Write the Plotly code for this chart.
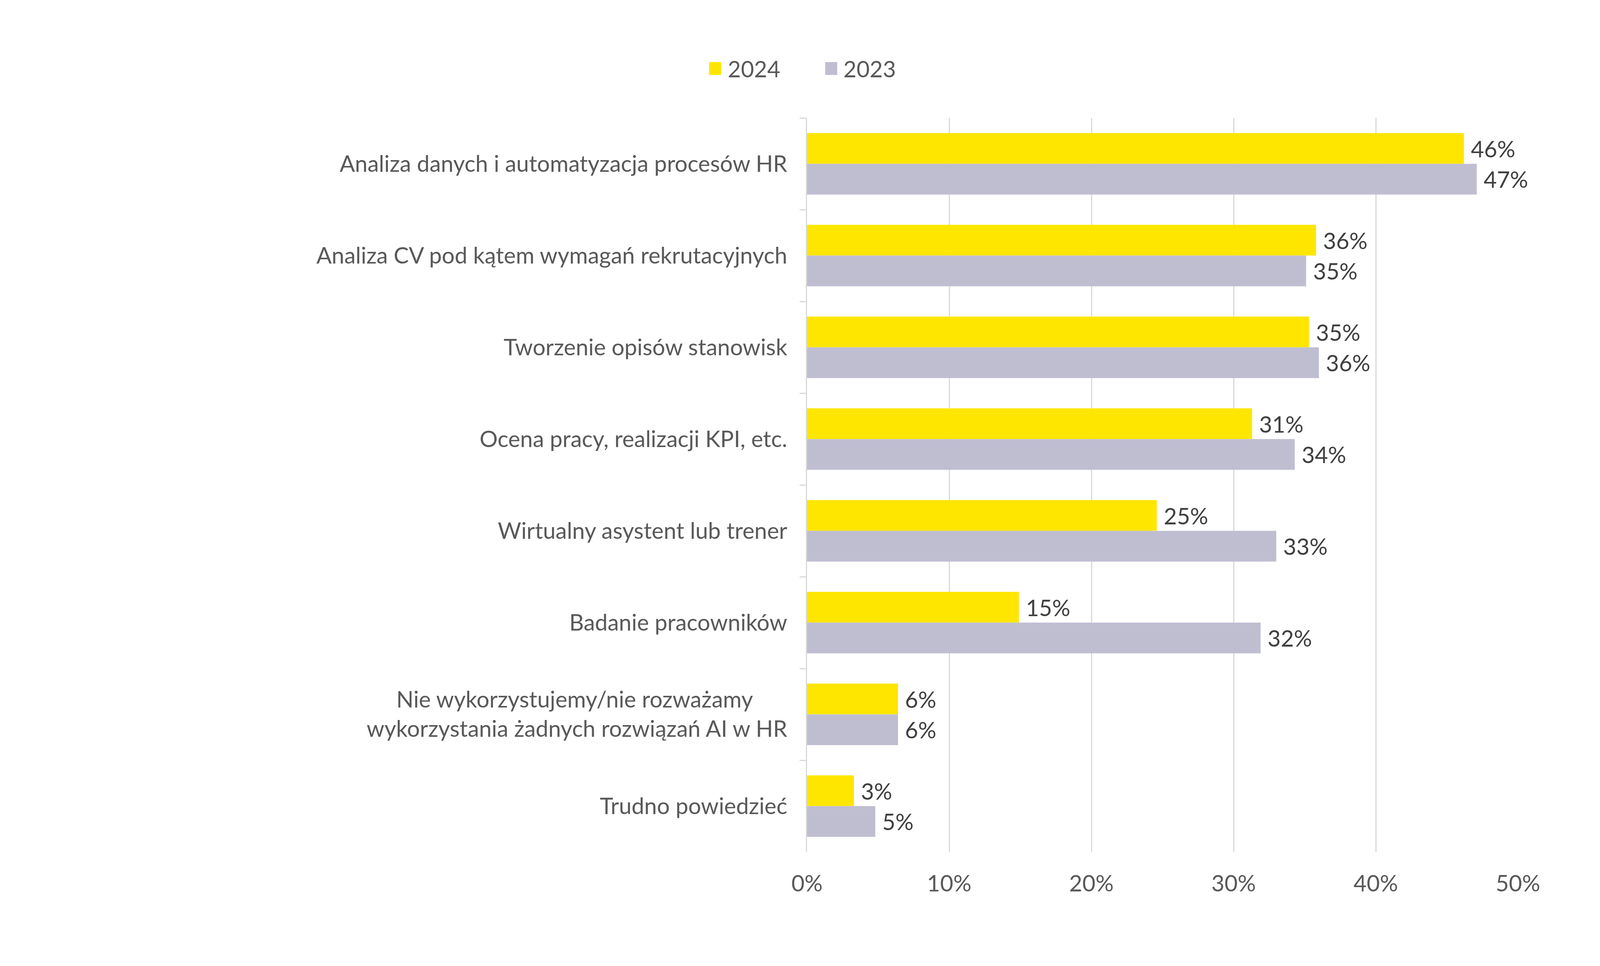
import plotly.graph_objects as go

categories = [
    "Analiza danych i automatyzacja procesów HR",
    "Analiza CV pod kątem wymagań rekrutacyjnych",
    "Tworzenie opisów stanowisk",
    "Ocena pracy, realizacji KPI, etc.",
    "Wirtualny asystent lub trener",
    "Badanie pracowników",
    "Nie wykorzystujemy/nie rozważamy" + "\u00a0" * 6 + "<br>wykorzystania żadnych rozwiązań AI w HR",
    "Trudno powiedzieć",
]
values_2024 = [46.2, 35.8, 35.3, 31.3, 24.6, 14.9, 6.4, 3.3]
values_2023 = [47.1, 35.1, 36.0, 34.3, 33.0, 31.9, 6.4, 4.8]
series_names = ["2024", "2023"]
x_ticks = [0, 10, 20, 30, 40, 50]
x_tick_labels = ["0%", "10%", "20%", "30%", "40%", "50%"]

YELLOW = "#FFE600"
GREY = "#BFBED1"
FONT = "Lato"
FS = 58

W, H = 4399, 2474
L, R, T, B = 2219, 226, 302, 292
PW, PH = W - L - R, H - T - B


def px2paper(x, y):
    return (x - L) / PW, (H - B - y) / PH


fig = go.Figure()
for name, vals, col in [(series_names[0], values_2024, YELLOW), (series_names[1], values_2023, GREY)]:
    fig.add_trace(go.Bar(
        y=categories, x=vals, name=name, orientation="h",
        marker=dict(color=col, line=dict(width=0)),
        texttemplate="\u00a0%{x:.0f}%", textposition="outside",
        textfont=dict(family=FONT, size=FS, color="#404040"),
        constraintext="none", cliponaxis=False, showlegend=False,
        hoverinfo="skip",
    ))

# custom legend (large square symbols)
shapes = []
annotations = []
for (sx, tx, name, col) in [(1950, 2000, series_names[0], YELLOW), (2269, 2318, series_names[1], GREY)]:
    x0, y0 = px2paper(sx, 192)
    x1, y1 = px2paper(sx + 33, 159)
    shapes.append(dict(type="rect", xref="paper", yref="paper", x0=x0, x1=x1, y0=y0, y1=y1,
                       fillcolor=col, line=dict(width=0)))
    ax, ay = px2paper(tx, 175)
    annotations.append(dict(xref="paper", yref="paper", x=ax, y=ay, xanchor="left", yanchor="middle",
                            text=name, showarrow=False, borderpad=0,
                            font=dict(family=FONT, size=FS, color="#595959")))

fig.update_layout(
    width=W, height=H,
    margin=dict(l=L, r=R, t=T, b=B, autoexpand=False),
    paper_bgcolor="white", plot_bgcolor="white",
    barmode="group", bargap=0.33, bargroupgap=0,
    shapes=shapes, annotations=annotations,
    font=dict(family=FONT, size=FS, color="#595959"),
    xaxis=dict(range=[0, 50], tickvals=x_ticks, ticktext=x_tick_labels,
               showgrid=True, gridcolor="#D9D9D9", gridwidth=3,
               zeroline=False, showline=False, ticks="", ticklabelstandoff=42,
               tickfont=dict(family=FONT, size=FS, color="#595959")),
    yaxis=dict(autorange="reversed", showline=True, linecolor="#D9D9D9", linewidth=3,
               ticks="outside", ticklen=16, tickwidth=3, tickcolor="#D9D9D9",
               tickson="boundaries", ticklabelstandoff=36,
               tickfont=dict(family=FONT, size=FS, color="#595959")),
)

# If the browser viewport is smaller than the requested size, shrink the
# figure geometry (margins / plot area) to fit it, keeping text size.
post_js = """
var gd = document.getElementById('{plot_id}');
document.documentElement.style.margin = '0';
document.body.style.margin = '0';
document.body.style.overflow = 'hidden';
var W = %d, H = %d, L = %d, R = %d, T = %d, B = %d;
var iw = window.innerWidth, ih = window.innerHeight;
if (iw < W || ih < H) {
  var sx = Math.min(1, iw / W), sy = Math.min(1, ih / H);
  Plotly.relayout(gd, {width: Math.floor(W * sx), height: Math.floor(H * sy),
    'margin.l': L * sx, 'margin.r': R * sx, 'margin.t': T * sy, 'margin.b': B * sy});
}
""" % (W, H, L, R, T, B)

fig.write_html("out.html", post_script=post_js, config={"displayModeBar": False})
